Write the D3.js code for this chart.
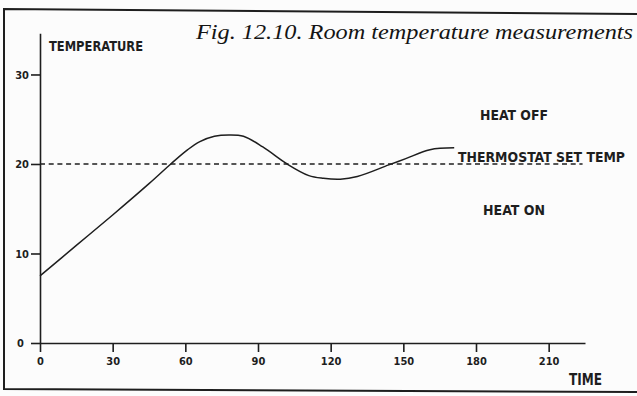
<!DOCTYPE html>
<html>
<head>
<meta charset="utf-8">
<script src="https://cdn.jsdelivr.net/npm/d3@7"></script>
<style>
  html, body { margin: 0; padding: 0; background: #fcfcfc; }
  svg { display: block; }
  .plot text { font-family: "DejaVu Sans Condensed", "DejaVu Sans", sans-serif; fill: #1e1e1e; }
</style>
</head>
<body>
<svg id="chart" width="637" height="396"></svg>
<script>
// Room temperature (°C) sampled over time (minutes)
const timeMin = [0, 15, 30, 45, 54, 61, 66, 72, 78, 84, 92, 102, 111, 117, 124, 131, 144, 151, 161, 171];
const tempC   = [7.5, 10.9, 14.3, 17.8, 20.0, 21.6, 22.5, 23.1, 23.25, 23.1, 21.9, 20.0, 18.7, 18.4, 18.3, 18.6, 19.9, 20.6, 21.6, 21.8];

const thermostatSet = 20;
const xTicks = [0, 30, 60, 90, 120, 150, 180, 210];
const yTicks = [0, 10, 20, 30];
const regionLabels = ["HEAT OFF", "THERMOSTAT SET TEMP", "HEAT ON"];
const titleText = "Fig. 12.10. Room temperature measurements";

const ink = "#1e1e1e";
const svg = d3.select("#chart");

// outer frame of the figure (slightly skewed plate)
svg.append("path")
  .attr("d", "M640,14 L4,9 L4,389 L640,392")
  .attr("fill", "none").attr("stroke", ink).attr("stroke-width", 2);

const x = d3.scaleLinear().domain([0, 225]).range([40, 585]);
const y = d3.scaleLinear().domain([0, 34.6]).range([343, 33.3]);

const plot = svg.append("g").attr("class", "plot");

// axes
const xAxis = d3.axisBottom(x).tickValues(xTicks).tickSize(9).tickPadding(5).tickSizeOuter(0);
const yAxis = d3.axisLeft(y).tickValues(yTicks).tickSize(9).tickPadding(2).tickSizeOuter(0);

const gx = plot.append("g").attr("transform", `translate(0,${y(0)})`).call(xAxis);
const gy = plot.append("g").attr("transform", `translate(${x(0)},0)`).call(yAxis);

[gx, gy].forEach(g => {
  g.selectAll("path.domain").attr("stroke", ink).attr("stroke-width", 1.6);
  g.selectAll(".tick line").attr("stroke", ink).attr("stroke-width", 1.6);
  g.selectAll(".tick text")
    .attr("fill", ink)
    .style("font-family", '"DejaVu Sans Condensed", "DejaVu Sans", sans-serif')
    .style("font-size", "11px")
    .style("font-weight", "bold");
});
gy.selectAll(".tick text").filter(d => d === 0).attr("dx", "-5");

// thermostat set-point
plot.append("line")
  .attr("x1", x(0)).attr("x2", x(224))
  .attr("y1", y(thermostatSet)).attr("y2", y(thermostatSet))
  .attr("stroke", ink).attr("stroke-width", 1.6)
  .attr("stroke-dasharray", "5,3.7");

// temperature curve
const series = timeMin.map((t, i) => ({ t, v: tempC[i] }));
plot.append("path")
  .datum(series)
  .attr("fill", "none").attr("stroke", ink).attr("stroke-width", 1.5)
  .attr("d", d3.line().x(d => x(d.t)).y(d => y(d.v)).curve(d3.curveCatmullRom.alpha(0.5)));

// labels
function label(txt, px, py, size, len) {
  plot.append("text")
    .attr("x", px).attr("y", py)
    .attr("textLength", len).attr("lengthAdjust", "spacingAndGlyphs")
    .style("font-size", size + "px")
    .style("font-weight", "bold")
    .text(txt);
}
label("TEMPERATURE", 49, 51, 14, 94);
label(regionLabels[0], 480, 120, 13.5, 68);
label(regionLabels[1], 458, 162, 13.5, 167);
label(regionLabels[2], 483, 215, 13.5, 62);
label("TIME", 569, 385, 15, 33);

// figure caption
svg.append("text")
  .attr("x", 196).attr("y", 39)
  .attr("textLength", 437).attr("lengthAdjust", "spacingAndGlyphs")
  .style("font-family", '"Liberation Serif", "DejaVu Serif", serif')
  .style("font-style", "italic")
  .style("font-size", "22px")
  .attr("fill", "#141414")
  .text(titleText);
</script>
</body>
</html>
